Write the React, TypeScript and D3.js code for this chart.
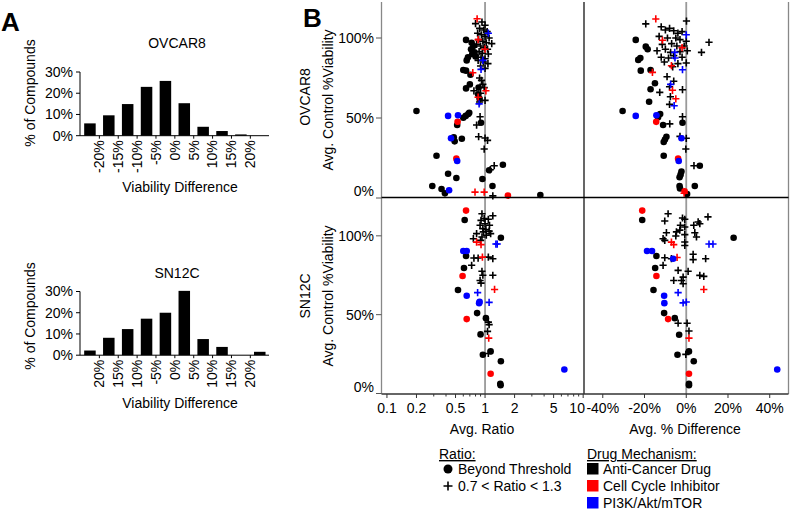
import React from "react";
import * as d3 from "d3";

const FONT = "'Liberation Sans', Arial, Helvetica, sans-serif";

// Panel A: histograms of viability difference
const ovcarBinLabels = ["-20%", "-15%", "-10%", "-5%", "0%", "5%", "10%", "15%", "20%"];
const sn12cBinLabels = ["20%", "15%", "10%", "-5%", "0%", "5%", "10%", "15%", "20%"];
const ovcarPercents = [5.8, 9.6, 14.9, 23.0, 25.8, 15.3, 4.2, 2.2, 0.6, 0];
const sn12cPercents = [2.2, 8.2, 12.3, 17.2, 20.0, 30.3, 7.6, 3.9, 0, 1.6];
const histTicks = [0, 10, 20, 30];

// Panel B: axes
const ratioTicks = [0.1, 0.2, 0.5, 1, 2, 5, 10];
const diffTicks = [-40, -20, 0, 20, 40];
const viabilityTicks = [0, 50, 100];

// [x value, avg control viability %, shape ("o" beyond threshold, "+" 0.7<ratio<1.3), mechanism (k anti-cancer, r cell cycle, b PI3K)]
type Pt = [number, number, string, string];

const ovcarRatio: Pt[] = [
  [0.8, 109, "+", "k"], [0.93, 110, "+", "k"], [1.0, 108, "+", "k"], [0.88, 106, "+", "k"],
  [0.97, 105, "+", "k"], [1.05, 104, "+", "k"], [0.84, 103, "+", "k"], [0.92, 102, "+", "k"],
  [1.0, 101, "+", "k"], [1.1, 100, "+", "k"], [0.86, 99, "+", "k"], [0.95, 98, "+", "k"],
  [1.03, 97, "+", "k"], [1.17, 96.5, "+", "k"], [0.82, 96, "+", "k"], [0.9, 95, "+", "k"],
  [0.98, 94, "+", "k"], [1.06, 93, "+", "k"], [0.87, 91.5, "+", "k"], [0.94, 90.5, "+", "k"],
  [1.08, 90, "+", "k"], [0.8, 89, "+", "k"], [0.91, 88, "+", "k"], [1.0, 87, "+", "k"],
  [0.85, 86, "+", "k"], [0.96, 85, "+", "k"], [1.07, 84, "+", "k"], [0.9, 82.5, "+", "k"],
  [1.0, 81, "+", "k"], [0.88, 75, "+", "k"], [0.92, 73.5, "+", "k"], [0.95, 71, "+", "k"],
  [0.98, 69, "+", "k"], [0.77, 67, "+", "k"], [0.9, 65.5, "+", "k"], [1.0, 61, "+", "k"],
  [0.88, 60, "+", "k"], [0.82, 45.6, "+", "k"], [0.89, 50.8, "+", "k"], [0.86, 38.3, "+", "k"],
  [1.0, 37.5, "+", "k"], [1.06, 36, "+", "k"], [0.98, 30.6, "+", "k"], [1.24, 20.2, "+", "k"],
  [1.13, 17.7, "+", "k"], [1.2, 1.3, "+", "k"],
  [0.64, 98.8, "o", "k"], [0.73, 97, "o", "k"], [0.76, 95, "o", "k"], [0.72, 93, "o", "k"],
  [0.78, 91, "o", "k"], [0.74, 90, "o", "k"], [0.67, 88, "o", "k"], [0.65, 86, "o", "k"],
  [0.8, 88.5, "o", "k"], [0.6, 80, "o", "k"], [0.64, 79.6, "o", "k"], [0.71, 77, "o", "k"],
  [0.7, 71, "o", "k"], [0.64, 68.5, "o", "k"], [0.86, 69, "o", "k"], [0.85, 64.8, "o", "k"],
  [0.88, 62, "o", "k"], [0.2, 54.4, "o", "k"], [0.6, 50.2, "o", "k"], [0.635, 51.3, "o", "k"],
  [0.675, 52.5, "o", "k"], [0.69, 53.3, "o", "k"], [0.52, 45.6, "o", "k"], [0.91, 47, "o", "k"],
  [0.48, 38, "o", "k"], [0.49, 35.4, "o", "k"], [0.58, 37, "o", "k"], [0.32, 26.4, "o", "k"],
  [1.52, 20.8, "o", "k"], [1.1, 17.3, "o", "k"], [0.42, 15.2, "o", "k"], [0.51, 12.5, "o", "k"],
  [0.94, 11.9, "o", "k"], [0.29, 7.5, "o", "k"], [0.36, 5.6, "o", "k"], [0.39, 2.9, "o", "k"],
  [1.19, 7.5, "o", "k"], [3.66, 1.9, "o", "k"],
  [0.83, 112, "+", "r"], [0.85, 99, "+", "r"], [1.0, 93, "+", "r"], [0.75, 78.3, "+", "r"],
  [1.02, 67, "+", "r"], [0.85, 63, "+", "r"], [0.79, 3.7, "+", "r"], [0.98, 3.7, "+", "r"],
  [0.525, 47.7, "o", "r"], [0.51, 24.6, "o", "r"], [1.71, 1.5, "o", "r"],
  [1.08, 103, "+", "b"], [0.95, 86, "+", "b"], [0.91, 80.4, "+", "b"], [0.87, 58.8, "+", "b"],
  [0.42, 51.3, "o", "b"], [0.53, 51.7, "o", "b"], [0.45, 37.3, "o", "b"], [0.52, 23.1, "o", "b"],
  [0.43, 4.8, "o", "b"],
];

const ovcarDiff: Pt[] = [
  [-19.4, 108.8, "+", "k"], [-12, 107, "+", "k"], [-10, 105, "+", "k"], [-8, 106, "+", "k"],
  [-6, 104.5, "+", "k"], [-4, 103, "+", "k"], [-2, 104, "+", "k"], [0.1, 110.6, "+", "k"],
  [-13, 101, "+", "k"], [-9, 100, "+", "k"], [-5, 100, "+", "k"], [-3, 99, "+", "k"],
  [0, 98, "+", "k"], [-11.5, 96, "+", "k"], [-7, 96.5, "+", "k"], [-4.5, 95, "+", "k"],
  [-1, 95, "+", "k"], [10.9, 97.3, "+", "k"], [-14, 92, "+", "k"], [-10, 93, "+", "k"],
  [-7.5, 91, "+", "k"], [-3, 91.5, "+", "k"], [0.5, 92, "+", "k"], [7.3, 91, "+", "k"],
  [-12, 88, "+", "k"], [-8.5, 87.5, "+", "k"], [-6, 89, "+", "k"], [-2, 88, "+", "k"],
  [0, 84.4, "+", "k"], [-10.5, 85, "+", "k"], [-4, 84, "+", "k"], [-6.5, 82, "+", "k"],
  [-9.2, 75.8, "+", "k"], [-6, 73, "+", "k"], [-8, 69.5, "+", "k"], [-1.8, 67.7, "+", "k"],
  [-12.7, 66, "+", "k"], [-7.6, 63.3, "+", "k"], [-8, 58.5, "+", "k"], [-7.9, 46.3, "+", "k"],
  [-1.8, 50.8, "+", "k"], [-3, 38.5, "+", "k"], [0, 37.3, "+", "k"], [-0.2, 30.6, "+", "k"],
  [3.7, 20.2, "+", "k"],
  [-24.2, 98.8, "o", "k"], [-19.4, 94.6, "o", "k"], [-18.5, 93, "o", "k"], [-23, 86.3, "o", "k"],
  [-22, 87.5, "o", "k"], [-21.8, 79.6, "o", "k"], [-17.1, 80, "o", "k"], [-15, 71.7, "o", "k"],
  [-17.1, 68, "o", "k"], [-17.8, 60.2, "o", "k"], [-30.5, 54.4, "o", "k"], [-12.5, 52.5, "o", "k"],
  [-13.5, 50.5, "o", "k"], [-11.1, 45.6, "o", "k"], [-1.8, 47, "o", "k"], [-9.5, 38.3, "o", "k"],
  [-10.2, 36.5, "o", "k"], [-10.8, 35, "o", "k"], [-10.8, 26.4, "o", "k"], [6.5, 20.2, "o", "k"],
  [-2.3, 16.5, "o", "k"], [-2.7, 14.6, "o", "k"], [-3.2, 13, "o", "k"], [-3.2, 7.5, "o", "k"],
  [-3, 6, "o", "k"], [4.1, 7.5, "o", "k"], [0.4, 2.5, "o", "k"],
  [-14.6, 111.9, "+", "r"], [-11.4, 98.6, "+", "r"], [-2, 94, "+", "r"], [-7.1, 82.7, "+", "r"],
  [-16.2, 78.5, "+", "r"], [-6.6, 67.3, "+", "r"], [-5, 62, "+", "r"], [-1, 3, "+", "r"],
  [-14.4, 47.6, "o", "r"], [-3.9, 24.6, "o", "r"], [-0.8, 4.2, "o", "r"],
  [0, 102, "+", "b"], [-5.5, 91, "+", "b"], [-5.4, 87.5, "+", "b"], [-1.8, 80.2, "+", "b"],
  [-7.5, 71, "+", "b"], [-5.8, 57.7, "+", "b"],
  [-24.2, 51.3, "o", "b"], [-14.3, 51.7, "o", "b"], [-2.3, 37.3, "o", "b"], [-3.6, 23.1, "o", "b"],
];

const sn12cRatio: Pt[] = [
  [0.93, 114, "+", "k"], [0.91, 109.8, "+", "k"], [0.98, 111, "+", "k"], [1.08, 110.5, "+", "k"],
  [1.2, 112.7, "+", "k"], [0.89, 106.7, "+", "k"], [1.0, 107.7, "+", "k"], [1.11, 106.7, "+", "k"],
  [0.95, 104.6, "+", "k"], [1.02, 104, "+", "k"], [0.82, 101.4, "+", "k"], [0.96, 102.5, "+", "k"],
  [1.1, 103, "+", "k"], [0.76, 98.2, "+", "k"], [0.93, 99.3, "+", "k"], [1.03, 100.4, "+", "k"],
  [1.14, 101.4, "+", "k"], [0.9, 97.1, "+", "k"], [0.77, 85.9, "+", "k"], [0.85, 85.9, "+", "k"],
  [1.08, 86.5, "+", "k"], [1.2, 85.5, "+", "k"], [0.73, 81.3, "+", "k"], [0.93, 77.5, "+", "k"],
  [0.95, 75, "+", "k"], [0.89, 71.7, "+", "k"], [0.91, 70, "+", "k"], [1.2, 75, "+", "k"],
  [1.08, 45.3, "+", "k"], [1.1, 43.7, "+", "k"], [1.06, 39.4, "+", "k"], [1.08, 25.4, "+", "k"],
  [0.62, 110, "o", "k"], [1.45, 98.8, "o", "k"], [0.64, 87.2, "o", "k"], [0.61, 79.6, "o", "k"],
  [0.53, 65.6, "o", "k"], [0.83, 51, "o", "k"], [1.02, 47.8, "o", "k"], [0.9, 37.5, "o", "k"],
  [0.95, 24.6, "o", "k"], [1.14, 26.7, "o", "k"], [1.45, 20.5, "o", "k"], [1.43, 6.2, "o", "k"],
  [1.44, 5.2, "o", "k"],
  [0.82, 96, "+", "r"], [0.91, 94.4, "+", "r"], [0.94, 86.5, "+", "r"], [1.25, 66, "+", "r"],
  [1.09, 35.1, "+", "r"],
  [0.64, 116, "o", "r"], [0.59, 74.5, "o", "r"], [0.65, 47.2, "o", "r"], [1.14, 12.5, "o", "r"],
  [1.29, 94.8, "+", "b"], [1.33, 94.8, "+", "b"], [0.84, 64, "+", "b"], [1.1, 57.8, "+", "b"],
  [0.6, 90.4, "o", "b"], [0.65, 90.4, "o", "b"], [0.65, 62, "o", "b"], [0.87, 57.3, "o", "b"],
  [0.88, 58.2, "o", "b"], [6.43, 15.2, "o", "b"],
];

const sn12cDiff: Pt[] = [
  [-8.7, 114, "+", "k"], [10.4, 112, "+", "k"], [-10.3, 109.4, "+", "k"], [-1.8, 111.3, "+", "k"],
  [-0.7, 110.5, "+", "k"], [-2.8, 106.7, "+", "k"], [-0.7, 105.6, "+", "k"], [3.6, 106.7, "+", "k"],
  [5.7, 108.8, "+", "k"], [6.5, 107.7, "+", "k"], [-9.5, 102, "+", "k"], [-4.7, 102.5, "+", "k"],
  [-3.1, 103.6, "+", "k"], [-0.7, 100.8, "+", "k"], [4.1, 102, "+", "k"], [4.9, 99.3, "+", "k"],
  [-5, 99.9, "+", "k"], [-11.1, 98.2, "+", "k"], [-10.3, 97.1, "+", "k"], [-0.7, 96.1, "+", "k"],
  [-0.7, 93.9, "+", "k"], [-10.3, 86.1, "+", "k"], [-7.1, 85.5, "+", "k"], [3.3, 88.3, "+", "k"],
  [3.3, 84.9, "+", "k"], [9.3, 85.5, "+", "k"], [-11.1, 81.3, "+", "k"], [-3.9, 78.1, "+", "k"],
  [0.9, 77.5, "+", "k"], [-1.5, 73.8, "+", "k"], [-2.3, 71.7, "+", "k"], [-6, 71.7, "+", "k"],
  [-1.5, 69.6, "+", "k"], [6.5, 74.9, "+", "k"], [8.4, 74.3, "+", "k"], [-3.9, 44.6, "+", "k"],
  [0.4, 44.6, "+", "k"], [1.3, 39.6, "+", "k"], [-0.2, 24.8, "+", "k"],
  [-21.1, 110, "o", "k"], [22.7, 98.8, "o", "k"], [-14.3, 87.2, "o", "k"], [-14.9, 79.6, "o", "k"],
  [-15.7, 65.6, "o", "k"], [-10.6, 51, "o", "k"], [-5.5, 47.8, "o", "k"], [-3.4, 37.3, "o", "k"],
  [1.3, 26.7, "o", "k"], [-4.2, 24.6, "o", "k"], [3.6, 20.5, "o", "k"], [1.3, 6.2, "o", "k"],
  [1.3, 5.2, "o", "k"],
  [-7.1, 96, "+", "r"], [-6, 94.4, "+", "r"], [-4.4, 86.3, "+", "r"], [8.4, 66, "+", "r"],
  [1.3, 35.1, "+", "r"],
  [-21.1, 116, "o", "r"], [-14.3, 74.5, "o", "r"], [-8.7, 47.2, "o", "r"], [1.3, 12.5, "o", "r"],
  [10.9, 94.8, "+", "b"], [12.8, 94.8, "+", "b"], [-3.9, 64, "+", "b"], [-1.5, 57.5, "+", "b"],
  [0, 58, "+", "b"],
  [-18.8, 90.4, "o", "b"], [-16.4, 90.4, "o", "b"], [-6.3, 85.5, "o", "b"], [-10.6, 62, "o", "b"],
  [-10.5, 57.3, "o", "b"], [43.6, 15.2, "o", "b"],
];

const mechColor: Record<string, string> = { k: "#000000", r: "#ff0000", b: "#0000ff" };
const mechOrder = ["k", "r", "b"];

const legendRatio = ["Beyond Threshold", "0.7 < Ratio < 1.3"];
const legendMech = ["Anti-Cancer Drug", "Cell Cycle Inhibitor", "PI3K/Akt/mTOR"];

function Histogram({ title, values, labels, top, titleY, xTitleY, yTitleY }: any) {
  const base = top + 63.7;
  const y = d3.scaleLinear().domain([0, 30]).range([base, top]);
  const x = d3
    .scaleBand<number>()
    .domain(d3.range(values.length))
    .range([80.5, 269.2])
    .paddingInner(0.39)
    .paddingOuter(0.195);
  const gap = x.step() - x.bandwidth();
  return (
    <g>
      <text x={177} y={titleY} textAnchor="middle" fontSize={14}>{title}</text>
      <text transform={`translate(30,${yTitleY}) rotate(-90)`} textAnchor="middle" dy="0.35em" fontSize={14}>
        % of Compounds
      </text>
      {values.map((v: number, i: number) => (
        <rect key={i} x={x(i)} y={y(v)} width={x.bandwidth()} height={base - y(v)} fill="#000" />
      ))}
      <line x1={80} x2={80} y1={top} y2={base} stroke="#000" strokeWidth={1} />
      <line x1={80} x2={269} y1={base} y2={base} stroke="#000" strokeWidth={1} />
      {histTicks.map((t) => (
        <g key={t}>
          <line x1={76} x2={80} y1={y(t)} y2={y(t)} stroke="#000" />
          <text x={73} y={y(t)} dy="0.35em" textAnchor="end" fontSize={14}>{t}%</text>
        </g>
      ))}
      {labels.map((l: string, i: number) => {
        const bx = (x(i + 1) as number) - gap / 2;
        return (
          <g key={i}>
            <line x1={bx} x2={bx} y1={base} y2={base + 3} stroke="#000" />
            <text transform={`translate(${bx},${base + 4.5}) rotate(-90)`} textAnchor="end" dy="0.35em" fontSize={14}>
              {l}
            </text>
          </g>
        );
      })}
      <text x={180} y={xTitleY} textAnchor="middle" fontSize={14}>Viability Difference</text>
    </g>
  );
}

function Marks({ points, x, y }: { points: Pt[]; x: (v: number) => number; y: (v: number) => number }) {
  const sorted = mechOrder.flatMap((m) => points.filter((p) => p[3] === m));
  return (
    <g>
      {sorted.map(([xv, v, shape, mech], i) => {
        const cx = x(xv);
        const cy = y(v);
        const c = mechColor[mech];
        return shape === "o" ? (
          <circle key={i} cx={cx} cy={cy} r={3.3} fill={c} />
        ) : (
          <path key={i} d={`M${cx - 3.6},${cy}H${cx + 3.6}M${cx},${cy - 3.6}V${cy + 3.6}`} stroke={c} strokeWidth={1.6} />
        );
      })}
    </g>
  );
}

export default function App() {
  const xLeft = 381.5;
  const xMid = 584;
  const xRight = 788.5;
  const yTop = 2;
  const yDiv = 197.5;
  const yBot = 394;

  const xRatio = d3.scaleLog().domain([0.088, 10.2]).range([xLeft, xMid]);
  const xDiff = d3.scaleLinear().domain([-49, 49]).range([xMid, xRight]);
  const yOvcar = d3.scaleLinear().domain([0, 122.5]).range([198, 2]);
  const ySn12c = d3.scaleLinear().domain([0, 124]).range([393.5, 198]);

  const minorRatio = d3.range(1, 10).map((k) => k * 0.1)
    .concat(d3.range(1, 10).map((k) => k))
    .concat([10])
    .filter((v) => !ratioTicks.includes(+v.toFixed(3)));

  const yAxis = (scale: any, bottom: number, key: string) =>
    viabilityTicks.map((t) => (
      <g key={key + t}>
        <line x1={376} x2={xLeft} y1={scale(t)} y2={scale(t)} stroke="#555" />
        <text x={374} y={Math.min(scale(t), bottom - 6.5)} dy="0.35em" textAnchor="end" fontSize={14}>{t}%</text>
      </g>
    ));

  return (
    <svg width={791} height={510} style={{ position: "absolute", left: 0, top: 0, fontFamily: FONT }}>
      <rect width={791} height={510} fill="#fff" />
      {/* Panel A */}
      <text x={1} y={31} fontSize={26} fontWeight="bold">A</text>
      <Histogram title="OVCAR8" values={ovcarPercents} labels={ovcarBinLabels} top={72} titleY={48} xTitleY={192} yTitleY={93} />
      <Histogram title="SN12C" values={sn12cPercents} labels={sn12cBinLabels} top={291.5} titleY={278} xTitleY={408} yTitleY={316} />

      {/* Panel B */}
      <text x={303} y={27} fontSize={26} fontWeight="bold">B</text>
      <text transform="translate(305,97) rotate(-90)" textAnchor="middle" dy="0.35em" fontSize={14}>OVCAR8</text>
      <text transform="translate(328,100) rotate(-90)" textAnchor="middle" dy="0.35em" fontSize={14}>Avg. Control %Viability</text>
      <text transform="translate(305,296) rotate(-90)" textAnchor="middle" dy="0.35em" fontSize={14}>SN12C</text>
      <text transform="translate(328,296) rotate(-90)" textAnchor="middle" dy="0.35em" fontSize={14}>Avg. Control %Viability</text>

      {/* reference lines */}
      <line x1={xRatio(1)} x2={xRatio(1)} y1={yTop} y2={yBot} stroke="#999" strokeWidth={1.8} />
      <line x1={xDiff(0)} x2={xDiff(0)} y1={yTop} y2={yBot} stroke="#999" strokeWidth={1.8} />

      <Marks points={ovcarRatio} x={xRatio} y={yOvcar} />
      <Marks points={ovcarDiff} x={xDiff} y={yOvcar} />
      <Marks points={sn12cRatio} x={xRatio} y={ySn12c} />
      <Marks points={sn12cDiff} x={xDiff} y={ySn12c} />

      {/* frame */}
      <line x1={xLeft} x2={xLeft} y1={yTop} y2={yBot} stroke="#888" strokeWidth={1.3} />
      <line x1={xRight} x2={xRight} y1={yTop} y2={yBot} stroke="#888" strokeWidth={1.3} />
      <line x1={xMid} x2={xMid} y1={yTop} y2={yBot} stroke="#000" strokeWidth={1.2} />
      <line x1={xLeft} x2={xRight} y1={yDiv} y2={yDiv} stroke="#000" strokeWidth={1.3} />
      <line x1={xLeft} x2={xRight} y1={yBot} y2={yBot} stroke="#333" strokeWidth={1.3} />

      {yAxis(yOvcar, 198, "o")}
      {yAxis(ySn12c, 393.5, "s")}

      {minorRatio.map((v, i) => (
        <line key={"m" + i} x1={xRatio(v)} x2={xRatio(v)} y1={yBot} y2={yBot + 2.5} stroke="#333" />
      ))}
      {ratioTicks.map((t) => (
        <g key={"r" + t}>
          <line x1={xRatio(t)} x2={xRatio(t)} y1={yBot} y2={yBot + 4} stroke="#333" />
          <text x={xRatio(t) - (t === 10 ? 6 : 0)} y={413} textAnchor="middle" fontSize={14}>{t}</text>
        </g>
      ))}
      {diffTicks.map((t) => (
        <g key={"d" + t}>
          <line x1={xDiff(t)} x2={xDiff(t)} y1={yBot} y2={yBot + 4} stroke="#333" />
          <text x={xDiff(t)} y={413} textAnchor="middle" fontSize={14}>{t}%</text>
        </g>
      ))}
      <text x={482} y={434} textAnchor="middle" fontSize={14}>Avg. Ratio</text>
      <text x={685} y={434} textAnchor="middle" fontSize={14}>Avg. % Difference</text>

      {/* legend */}
      <text x={439} y={459} fontSize={14} textDecoration="underline">Ratio:</text>
      <circle cx={448} cy={469} r={4.5} fill="#000" />
      <path d="M443.5,486H452.5M448,481.5V490.5" stroke="#000" strokeWidth={1.6} />
      {legendRatio.map((l, i) => (
        <text key={l} x={458} y={469 + i * 17} dy="0.35em" fontSize={14}>{l}</text>
      ))}
      <text x={587} y={459} fontSize={14} textDecoration="underline">Drug Mechanism:</text>
      {legendMech.map((l, i) => (
        <g key={l}>
          <rect x={587} y={463 + i * 17} width={11.5} height={11.5} fill={mechColor[mechOrder[i]]} />
          <text x={603} y={469 + i * 17} dy="0.35em" fontSize={14}>{l}</text>
        </g>
      ))}
    </svg>
  );
}
